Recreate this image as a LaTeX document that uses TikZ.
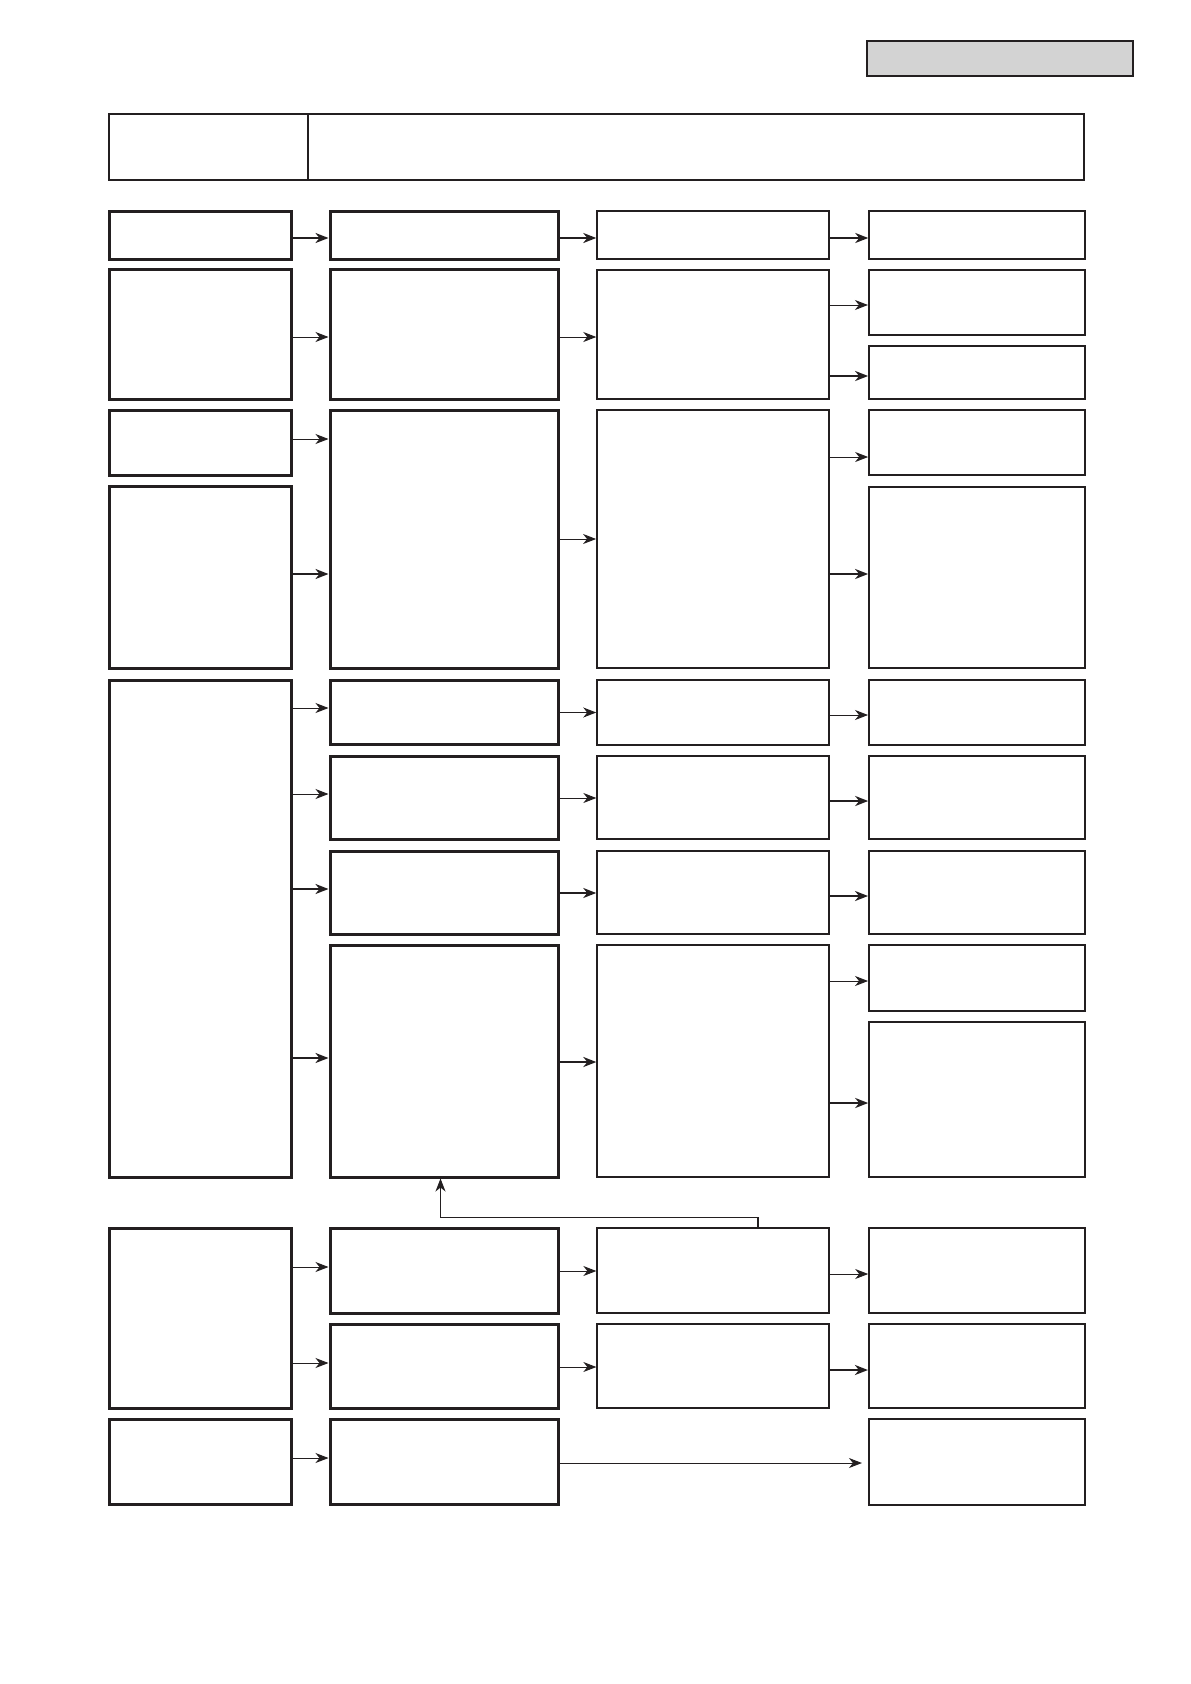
\documentclass[tikz,border=0pt]{standalone}
\usetikzlibrary{arrows.meta}
\definecolor{ink}{RGB}{35,31,32}
\definecolor{shade}{RGB}{211,211,211}
\tikzset{
  box/.style={draw=ink, fill=white, shape=rectangle, inner sep=0pt},
  arr/.style={draw=ink, line width=0.9pt, -{Stealth[length=13pt,width=10pt,inset=4pt]}},
  tarr/.style={arr, line width=2.3pt},
}
\newcommand\bx[6]{\node[box, line width=#6pt, minimum width={(#4-#2)*1pt}, minimum height={(#5-#3)*1pt}] (#1) at ({(#2+#4)/2},{(#3+#5)/2}) {};}
\newcommand\ar[4][arr]{\draw[#1] (#2.east |- 0,#4) -- (#3.west |- 0,#4);}
\begin{document}
\begin{tikzpicture}[x=1pt,y=-1pt]
\useasboundingbox (0,0) rectangle (1191,1684);
% top grey box
\node[box, fill=shade, line width=2.4pt, minimum width=266pt, minimum height=35pt] (tag) at (1000,58.5) {};
% header
\bx{hdl}{109}{114}{308}{180}{1.9}
\bx{hdr}{308}{114}{1084}{180}{1.9}
% row 1
\bx{c1r1}{109}{211}{291}{259}{3.0}
\bx{c2r1}{330}{211}{558}{259}{3.0}
\bx{c3r1}{597}{211}{829}{259}{1.4}
\bx{c4r1}{869}{211}{1085}{259}{1.5}
% row 2
\bx{c1r2}{109}{269}{291}{399}{3.0}
\bx{c2r2}{330}{269}{558}{399}{3.0}
\bx{c3r2}{597}{270}{829}{399}{1.4}
\bx{c4r2a}{869}{270}{1085}{335}{2.1}
\bx{c4r2b}{869}{346}{1085}{399}{1.7}
% row 3
\bx{c1r3a}{109}{410}{291}{475}{3.0}
\bx{c1r3b}{109}{486}{291}{668}{3.0}
\bx{c2r3}{330}{410}{558}{668}{3.0}
\bx{c3r3}{597}{410}{829}{668}{1.8}
\bx{c4r3a}{869}{410}{1085}{475}{1.7}
\bx{c4r3b}{869}{487}{1085}{668}{1.7}
% row 4
\bx{c1r4}{109}{680}{291}{1177}{3.0}
\bx{c2r4a}{330}{680}{558}{744}{3.0}
\bx{c2r4b}{330}{756}{558}{839}{3.0}
\bx{c2r4c}{330}{851}{558}{934}{3.0}
\bx{c2r4d}{330}{945}{558}{1177}{3.0}
\bx{c3r4a}{597}{680}{829}{745}{1.5}
\bx{c3r4b}{597}{756}{829}{839}{1.3}
\bx{c3r4c}{597}{851}{829}{934}{1.5}
\bx{c3r4d}{597}{945}{829}{1177}{1.3}
\bx{c4r4a}{869}{680}{1085}{745}{1.9}
\bx{c4r4b}{869}{756}{1085}{839}{1.6}
\bx{c4r4c}{869}{851}{1085}{934}{1.9}
\bx{c4r4d}{869}{945}{1085}{1011}{1.9}
\bx{c4r4e}{869}{1022}{1085}{1177}{1.6}
% row 5
\bx{c1r5}{109}{1228}{291}{1408}{3.0}
\bx{c2r5a}{330}{1228}{558}{1313}{3.0}
\bx{c2r5b}{330}{1324}{558}{1408}{3.0}
\bx{c3r5a}{597}{1228}{829}{1313}{1.3}
\bx{c3r5b}{597}{1324}{829}{1408}{1.3}
\bx{c4r5a}{869}{1228}{1085}{1313}{1.6}
\bx{c4r5b}{869}{1324}{1085}{1408}{2.1}
% row 6
\bx{c1r6}{109}{1419}{291}{1504}{3.0}
\bx{c2r6}{330}{1419}{558}{1504}{3.0}
\bx{c4r6}{869}{1419}{1085}{1505}{2.1}
% arrows row 1
\ar[tarr]{c1r1}{c2r1}{238}
\ar[tarr]{c2r1}{c3r1}{238}
\ar[tarr]{c3r1}{c4r1}{238}
% row 2
\ar{c1r2}{c2r2}{337}
\ar{c2r2}{c3r2}{337}
\ar{c3r2}{c4r2a}{305}
\ar[tarr]{c3r2}{c4r2b}{376}
% row 3
\ar{c1r3a}{c2r3}{439}
\ar[tarr]{c1r3b}{c2r3}{574}
\ar{c2r3}{c3r3}{539}
\ar{c3r3}{c4r3a}{457}
\ar[tarr]{c3r3}{c4r3b}{574}
% row 4
\ar{c1r4}{c2r4a}{708}
\ar{c1r4}{c2r4b}{794}
\ar[tarr]{c1r4}{c2r4c}{889}
\ar[tarr]{c1r4}{c2r4d}{1058}
\ar{c2r4a}{c3r4a}{712.5}
\ar{c2r4b}{c3r4b}{798}
\ar[tarr]{c2r4c}{c3r4c}{893}
\ar[tarr]{c2r4d}{c3r4d}{1062}
\ar{c3r4a}{c4r4a}{715}
\ar[tarr]{c3r4b}{c4r4b}{801}
\ar[tarr]{c3r4c}{c4r4c}{896}
\ar{c3r4d}{c4r4d}{981}
\ar[tarr]{c3r4d}{c4r4e}{1103}
% row 5
\ar{c1r5}{c2r5a}{1267}
\ar{c1r5}{c2r5b}{1363}
\ar{c2r5a}{c3r5a}{1271}
\ar{c2r5b}{c3r5b}{1367}
\ar{c3r5a}{c4r5a}{1274}
\ar[tarr]{c3r5b}{c4r5b}{1370}
% row 6
\ar{c1r6}{c2r6}{1458}
\draw[arr, shorten >=6pt] (c2r6.east |- 0,1463) -- (c4r6.west |- 0,1463);
% feedback
\coordinate (fbr) at (758,1217);
\coordinate (fbl) at (440.5,1217);
\draw[ink, line width=2.2pt] (c3r5a.north -| fbr) -- ([yshift=-0.5pt]fbr);
\draw[arr] ([xshift=1pt]fbr) -- (fbl) -- (c2r4d.south -| fbl);
\end{tikzpicture}
\end{document}
